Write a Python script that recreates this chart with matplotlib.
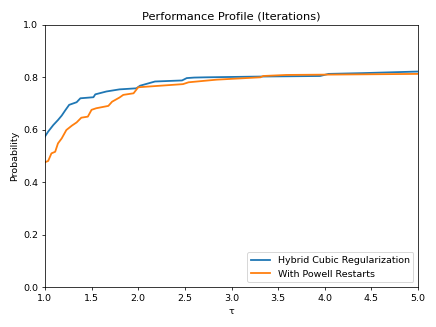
import matplotlib
import matplotlib.pyplot as plt

matplotlib.use("Agg")

# Performance profile values
tau_hybrid = [1.0, 1.035, 1.09, 1.14, 1.18, 1.22, 1.26, 1.34, 1.38, 1.52, 1.54,
              1.66, 1.80, 1.98, 2.02, 2.09, 2.18, 2.47, 2.52, 2.60, 2.73,
              3.34, 3.95, 4.04, 4.41, 5.0]
prob_hybrid = [0.574, 0.593, 0.618, 0.637, 0.654, 0.675, 0.695, 0.705, 0.720, 0.724, 0.735,
               0.746, 0.754, 0.758, 0.768, 0.775, 0.784, 0.788, 0.797, 0.799, 0.800,
               0.803, 0.805, 0.813, 0.816, 0.822]

tau_powell = [1.0, 1.035, 1.07, 1.11, 1.14, 1.18, 1.23, 1.29, 1.34, 1.39, 1.46,
              1.50, 1.55, 1.68, 1.72, 1.80, 1.84, 1.95, 2.0, 2.48, 2.54,
              2.84, 3.31, 3.34, 3.59, 5.0]
prob_powell = [0.476, 0.481, 0.510, 0.516, 0.548, 0.567, 0.599, 0.616, 0.628, 0.646, 0.650,
               0.676, 0.682, 0.691, 0.707, 0.723, 0.733, 0.739, 0.762, 0.774, 0.781,
               0.791, 0.800, 0.805, 0.809, 0.813]

fig, ax = plt.subplots(figsize=(6.4, 4.8), dpi=68.125)
fig.subplots_adjust(left=0.103, right=0.959, top=0.924, bottom=0.122)

ax.plot(tau_hybrid, prob_hybrid, lw=1.9, label="Hybrid Cubic Regularization")
ax.plot(tau_powell, prob_powell, lw=1.9, label="With Powell Restarts")

ax.set_xlim(1.0, 5.0)
ax.set_ylim(0.0, 1.0)
ax.set_xlabel("τ")
ax.set_ylabel("Probability")
ax.set_title("Performance Profile (Iterations)")
ax.legend(loc="lower right")

fig.savefig("out.png", dpi=68.125)
